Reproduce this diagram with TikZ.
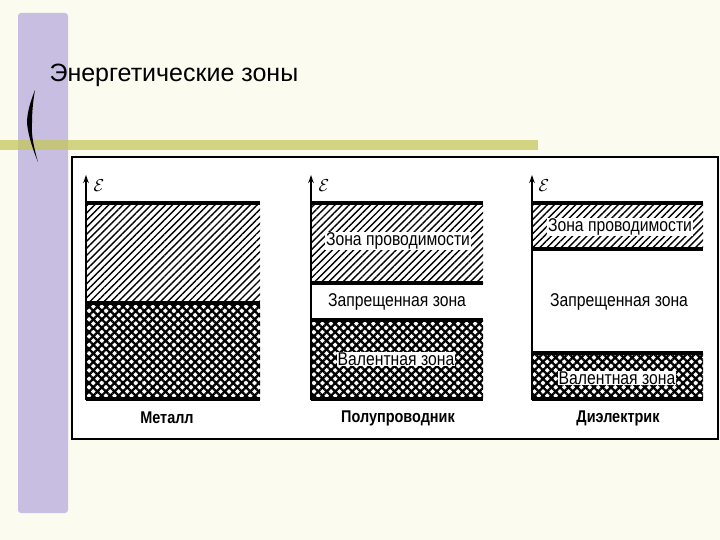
\documentclass[tikz,border=0pt]{standalone}
\usepackage{fontspec}
\setmainfont{Liberation Sans}
\newfontfamily\bookfont[FakeStretch=0.85]{Liberation Sans}
\usepackage{tikz}
\usetikzlibrary{arrows.meta, patterns.meta, positioning}

\definecolor{slidebg}{RGB}{252,251,240}
\definecolor{barlilac}{RGB}{200,190,225}
\definecolor{lineolive}{RGB}{196,199,92}

\begin{document}
\begin{tikzpicture}[
        x=1pt, y=-1pt,
        % Style for conduction bands (single hatching)
        condband/.style={pattern={Lines[angle=45, distance=5pt, line width=1.4pt]}},
        % Style for valence bands (cross hatching)
        valband/.style={pattern={Hatch[angle=45, distance=6pt, line width=2.3pt]}},
        % Style for band edges
        edge/.style={line width=3.4pt},
        % Style for energy axes
        axis/.style={line width=2.2pt, -{Stealth[length=8pt, width=5.5pt]}},
        zonelabel/.style={fill=white, inner sep=1pt, font=\bookfont\fontsize{18.5}{18.5}\selectfont},
        gaplabel/.style={font=\bookfont\fontsize{18.5}{18.5}\selectfont},
        matlabel/.style={font=\bookfont\bfseries\fontsize{17}{17}\selectfont},
        epslabel/.style={font=\fontsize{17}{17}\selectfont}
    ]

        % 1. Slide background
        \useasboundingbox (0,0) rectangle (720,540);
        \fill[slidebg] (0,0) rectangle (720,540);
        \fill[barlilac, rounded corners=3pt] (18,13) rectangle (68,513);
        \fill[lineolive, fill opacity=0.75] (0,140) rectangle (538,150);
        \fill[black] (35,90) .. controls (29,105) and (27,115) .. (27,123)
            .. controls (28,135) and (33,150) .. (38,162)
            .. controls (34,148) and (31,135) .. (32,123)
            .. controls (32,112) and (33,102) .. (35,90) -- cycle;
        \node[anchor=west, font=\fontsize{25}{25}\selectfont] (title) at (46,75) {Энергетические зоны};

        % 2. Picture frame
        \draw[fill=white, line width=1.4pt] (72,157) rectangle (718,439);

        % 3. Metal
        \fill[condband] (86,203) rectangle (260,303);
        \fill[valband]  (86,303) rectangle (260,399);
        \draw[edge] (86,203) -- (260,203);
        \draw[edge] (86,303) -- (260,303);
        \draw[edge] (86,399) -- (260,399);
        \coordinate (m0) at (86,400);
        \coordinate (m1) at (86,175);
        \draw[axis] (m0) -- (m1);
        \node[epslabel] (meps) at (99,186) {$\mathcal{E}$};
        \node[matlabel] (metal) at (167,418) {Металл};

        % 4. Semiconductor
        \fill[condband] (311,203) rectangle (483,283);
        \fill[valband]  (311,320) rectangle (483,399);
        \draw[edge] (311,203) -- (483,203);
        \draw[edge] (311,283) -- (483,283);
        \draw[edge] (311,320) -- (483,320);
        \draw[edge] (311,399) -- (483,399);
        \coordinate (s0) at (311,400);
        \coordinate (s1) at (311,175);
        \draw[axis] (s0) -- (s1);
        \node[epslabel] (seps) at (324,186) {$\mathcal{E}$};
        \node[zonelabel] (scond) at (398,241) {Зона проводимости};
        \node[gaplabel] (sgap) at (397,302) {Запрещенная зона};
        \node[zonelabel] (sval) at (396,359) {Валентная зона};
        \node[matlabel] (semi) at (398,418) {Полупроводник};

        % 5. Dielectric
        \fill[condband] (532,203) rectangle (703,249);
        \fill[valband]  (532,353) rectangle (703,399);
        \draw[edge] (532,203) -- (703,203);
        \draw[edge] (532,249) -- (703,249);
        \draw[edge] (532,353) -- (703,353);
        \draw[edge] (532,399) -- (703,399);
        \coordinate (d0) at (532,400);
        \coordinate (d1) at (532,175);
        \draw[axis] (d0) -- (d1);
        \node[epslabel] (deps) at (544,186) {$\mathcal{E}$};
        \node[zonelabel] (dcond) at (620,227) {Зона проводимости};
        \node[gaplabel] (dgap) at (619,302) {Запрещенная зона};
        \node[zonelabel] (dval) at (617,378) {Валентная зона};
        \node[matlabel] (diel) at (618,418) {Диэлектрик};

    \end{tikzpicture}
\end{document}
